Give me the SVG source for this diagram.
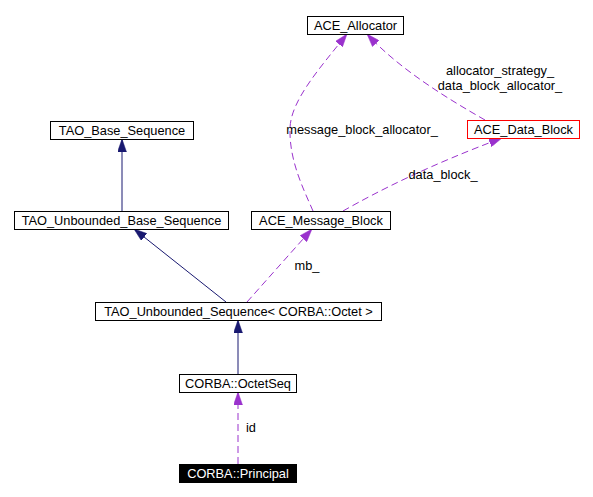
<svg xmlns="http://www.w3.org/2000/svg" width="593" height="497" viewBox="0 0 593 497">
<style>
  .box { fill: #ffffff; stroke: #000000; stroke-width: 1; }
  .t { font-family: "Liberation Sans", Arial, Helvetica, sans-serif; font-size: 12.8px; fill: #000000; text-anchor: middle; }
  .inh { fill: none; stroke: #191970; stroke-width: 1; marker-end: url(#an); }
  .use { fill: none; stroke: #9a32cd; stroke-width: 1; stroke-dasharray: 7,4; marker-end: url(#ap); }
</style>
<defs>
  <marker id="an" viewBox="0 0 13 9" refX="13" refY="4.5" markerWidth="13" markerHeight="9" markerUnits="userSpaceOnUse" orient="auto">
    <path d="M0,0 L13,4.5 L0,9 z" fill="#191970" stroke="#191970" stroke-width="0.5"/>
  </marker>
  <marker id="ap" viewBox="0 0 13 9" refX="13" refY="4.5" markerWidth="13" markerHeight="9" markerUnits="userSpaceOnUse" orient="auto">
    <path d="M0,0 L13,4.5 L0,9 z" fill="#9a32cd" stroke="#9a32cd" stroke-width="0.5"/>
  </marker>
</defs>
<rect width="593" height="497" fill="#ffffff"/>
<g id="connectors">
  <path class="inh" d="M122,211 L122,139"/>
  <path class="inh" d="M226,302 L134,229"/>
  <path class="inh" d="M238,374 L238,320"/>
  <path class="use" d="M238,464 L238,392"/>
  <path class="use" d="M247,302 L312,229"/>
  <path class="use" d="M313,211 C303,188 289,160 290,128 C291,100 320,68 347,34"/>
  <path class="use" d="M343,211 C380,190 430,165 502,138"/>
  <path class="use" d="M485,120 C450,100 400,70 367,34"/>
  <text class="t" x="362" y="134">message_block_allocator_</text>
  <text class="t" x="443" y="179">data_block_</text>
  <text class="t" x="307" y="270">mb_</text>
  <text class="t" x="251" y="432">id</text>
  <text class="t" x="500" y="75">allocator_strategy_</text>
  <text class="t" x="500" y="90">data_block_allocator_</text>
</g>
<g id="ACE_Allocator">
  <rect class="box" x="307.5" y="16.5" width="96" height="18"/>
  <text class="t" x="355.5" y="30">ACE_Allocator</text>
</g>
<g id="ACE_Data_Block">
  <rect class="box" x="467.5" y="120.5" width="112" height="18" style="stroke:#ff0000"/>
  <text class="t" x="523.5" y="134">ACE_Data_Block</text>
</g>
<g id="TAO_Base_Sequence">
  <rect class="box" x="50.5" y="121.5" width="143" height="18"/>
  <text class="t" x="122" y="135">TAO_Base_Sequence</text>
</g>
<g id="TAO_Unbounded_Base_Sequence">
  <rect class="box" x="14.5" y="211.5" width="214" height="18"/>
  <text class="t" x="121.5" y="225">TAO_Unbounded_Base_Sequence</text>
</g>
<g id="ACE_Message_Block">
  <rect class="box" x="251.5" y="211.5" width="139" height="18"/>
  <text class="t" x="321" y="225">ACE_Message_Block</text>
</g>
<g id="TAO_Unbounded_Sequence">
  <rect class="box" x="95.5" y="302.5" width="286" height="18"/>
  <text class="t" x="238.5" y="316">TAO_Unbounded_Sequence&lt; CORBA::Octet &gt;</text>
</g>
<g id="CORBA_OctetSeq">
  <rect class="box" x="179.5" y="374.5" width="117" height="18"/>
  <text class="t" x="238" y="388">CORBA::OctetSeq</text>
</g>
<g id="CORBA_Principal">
  <rect x="179.5" y="464.5" width="117" height="18" fill="#000000" stroke="#000000"/>
  <text class="t" x="238" y="478" style="fill:#ffffff">CORBA::Principal</text>
</g>
</svg>
